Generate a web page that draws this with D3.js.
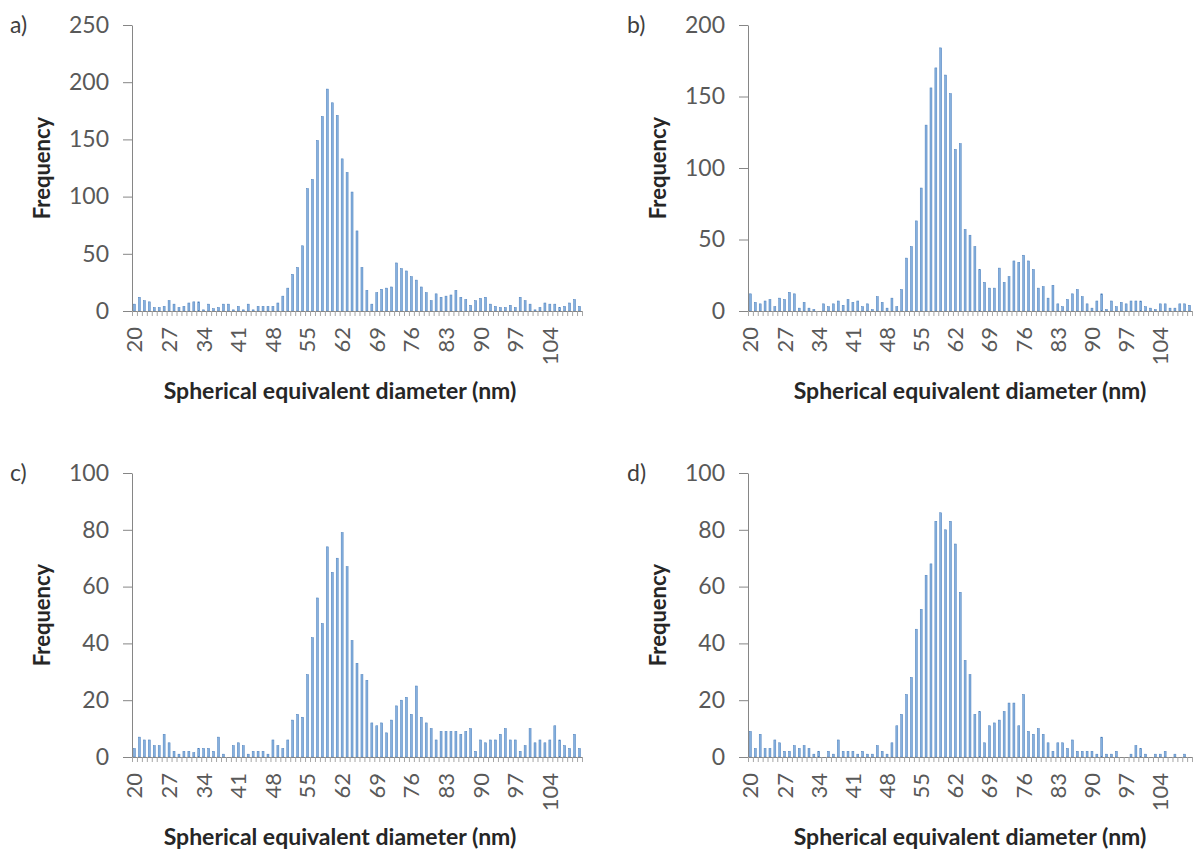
<!DOCTYPE html>
<html>
<head>
<meta charset="utf-8">
<script src="https://cdn.jsdelivr.net/npm/d3@7"></script>
<style>
  body { margin: 0; background: #fff; }
  text { font-family: Lato, "Open Sans", sans-serif; }
</style>
</head>
<body>
<svg id="chart" width="1194" height="853"></svg>
<script>
// categories: spherical equivalent diameter (nm), one bar per nm
const diameters = [20,21,22,23,24,25,26,27,28,29,30,31,32,33,34,35,36,37,38,39,40,41,42,43,44,45,46,47,48,49,
  50,51,52,53,54,55,56,57,58,59,60,61,62,63,64,65,66,67,68,69,70,71,72,73,74,75,76,77,78,79,
  80,81,82,83,84,85,86,87,88,89,90,91,92,93,94,95,96,97,98,99,100,101,102,103,104,105,106,107,108,109,110];

const xTickLabels = [20,27,34,41,48,55,62,69,76,83,90,97,104];

// frequencies, panel by panel
const freqA = [6,12,9,8,3,3,4,9,6,3,4,7,8,8,1,6,2,3,6,6,1,4,1,6,1,4,4,4,4,7,
  13,20,32,38,57,107,115,149,170,194,182,171,133,121,104,70,38,18,6,16,19,20,21,42,37,35,30,27,21,16,
  9,15,12,13,14,18,12,10,5,9,11,12,6,4,3,3,5,3,12,9,6,1,3,7,6,6,3,4,7,10,4];

const freqB = [12,6,5,7,8,3,9,8,13,12,2,6,2,1,0,5,3,5,7,4,8,6,7,3,5,1,10,6,2,9,
  3,15,37,45,63,86,130,156,170,184,165,152,113,117,57,53,45,29,20,16,16,30,20,24,35,34,39,35,29,16,
  17,9,18,5,3,8,12,15,10,5,2,7,12,1,7,3,6,5,7,7,7,3,2,1,5,5,2,2,5,5,4];

const freqC = [3,7,6,6,4,4,8,5,2,1,2,2,1.5,3,3,3,2,7,1,0,4,5,4,1,2,2,2,1,6,4,
  3,6,13,15,14,29,42,56,47,74,65,70,79,67,41,33,29,27,12,11,12,8.5,13,18,20,21,15,25,14,12,
  10,6,9,9,9,9,8,9,10,2,6,5,6,6,8,10,6,6,2,4,10,5,6,5,6,11,6,4,3,8,3];

const freqD = [9,3,8,3,3,6,5,2,2,4,3,4,3,1,2,0,2,1,6,2,2,2,1,2,1,1,4,2,1,5,
  11,15,22,28,45,52,64,68,83,86,80,83,75,58,34,29,15,16,5,11,12,13,16,19,19,11,22,9,8,10,
  8,5,2,5,5,3,6,2,2,2,2,1,7,1,1,2,0,0,1,4,3,1,0,1,1,2,0,1,0,1,0];

const yTicksA = [0,50,100,150,200,250];
const yTicksB = [0,50,100,150,200];
const yTicksCD = [0,20,40,60,80,100];

const xTitle = 'Spherical equivalent diameter (nm)';
const yTitle = 'Frequency';

const svg = d3.select('#chart');

const panels = [
  { tag: 'a)', values: freqA, yTicks: yTicksA, left: 132, right: 582, top: 25, bottom: 311, tagX: 10, titleX: 340 },
  { tag: 'b)', values: freqB, yTicks: yTicksB, left: 748, right: 1192, top: 25, bottom: 311, tagX: 627, titleX: 970 },
  { tag: 'c)', values: freqC, yTicks: yTicksCD, left: 132, right: 582, top: 473, bottom: 757, tagX: 10, titleX: 340 },
  { tag: 'd)', values: freqD, yTicks: yTicksCD, left: 748, right: 1192, top: 473, bottom: 757, tagX: 627, titleX: 970 }
];

panels.forEach(drawPanel);

function drawPanel(p) {
  const g = svg.append('g');

  const x = d3.scaleBand()
    .domain(diameters)
    .range([p.left, p.right])
    .paddingInner(0.6)
    .paddingOuter(0.3);

  const y = d3.scaleLinear()
    .domain([0, d3.max(p.yTicks)])
    .range([p.bottom, p.top]);

  // bars
  g.selectAll('rect').data(p.values)
    .enter().append('rect')
    .attr('x', (d, i) => x(diameters[i]))
    .attr('y', d => y(d))
    .attr('width', x.bandwidth())
    .attr('height', d => y(0) - y(d))
    .attr('fill', '#86b0de')
    .attr('stroke', '#4a7ebb')
    .attr('stroke-width', 0.5);

  // y axis
  const yAxis = g.append('g')
    .attr('transform', `translate(${p.left},0)`)
    .call(d3.axisLeft(y).tickValues(p.yTicks).tickSize(9).tickSizeOuter(0).tickPadding(14));
  yAxis.select('.domain').attr('stroke', '#868686');
  yAxis.selectAll('.tick line').attr('stroke', '#868686');
  yAxis.selectAll('.tick text')
    .attr('fill', '#595959')
    .style('font-size', '23px');

  // x axis: small tick marks between categories
  const slots = d3.scaleLinear().domain([0, diameters.length]).range([p.left, p.right]);
  const xMinor = g.append('g')
    .attr('transform', `translate(0,${p.bottom})`)
    .call(d3.axisBottom(slots).tickValues(d3.range(diameters.length + 1)).tickSize(5).tickSizeOuter(0).tickFormat(''));
  xMinor.select('.domain').attr('stroke', '#868686');
  xMinor.selectAll('.tick line').attr('stroke', '#a6a6a6');

  // x axis labels, rotated
  const xAxis = g.append('g')
    .attr('transform', `translate(0,${p.bottom})`)
    .call(d3.axisBottom(x).tickValues(xTickLabels).tickSize(0).tickSizeOuter(0));
  xAxis.select('.domain').remove();
  xAxis.selectAll('.tick text')
    .attr('fill', '#595959')
    .style('font-size', '22px')
    .attr('text-anchor', 'end')
    .attr('transform', 'rotate(-90)')
    .attr('x', -16)
    .attr('y', 0)
    .attr('dy', '0.36em');

  // panel tag
  g.append('text')
    .attr('x', p.tagX)
    .attr('y', p.top + 8)
    .attr('fill', '#404040')
    .style('font-size', '23px')
    .text(p.tag);

  // axis titles
  g.append('text')
    .attr('transform', `translate(${p.left - 82},${(p.top + p.bottom) / 2}) rotate(-90)`)
    .attr('text-anchor', 'middle')
    .attr('fill', '#262626')
    .style('font-size', '22px')
    .style('font-weight', 'bold')
    .text(yTitle);

  g.append('text')
    .attr('x', p.titleX)
    .attr('y', p.bottom + 88)
    .attr('text-anchor', 'middle')
    .attr('fill', '#262626')
    .style('font-size', '23px')
    .style('font-weight', 'bold')
    .text(xTitle);
}
</script>
</body>
</html>
